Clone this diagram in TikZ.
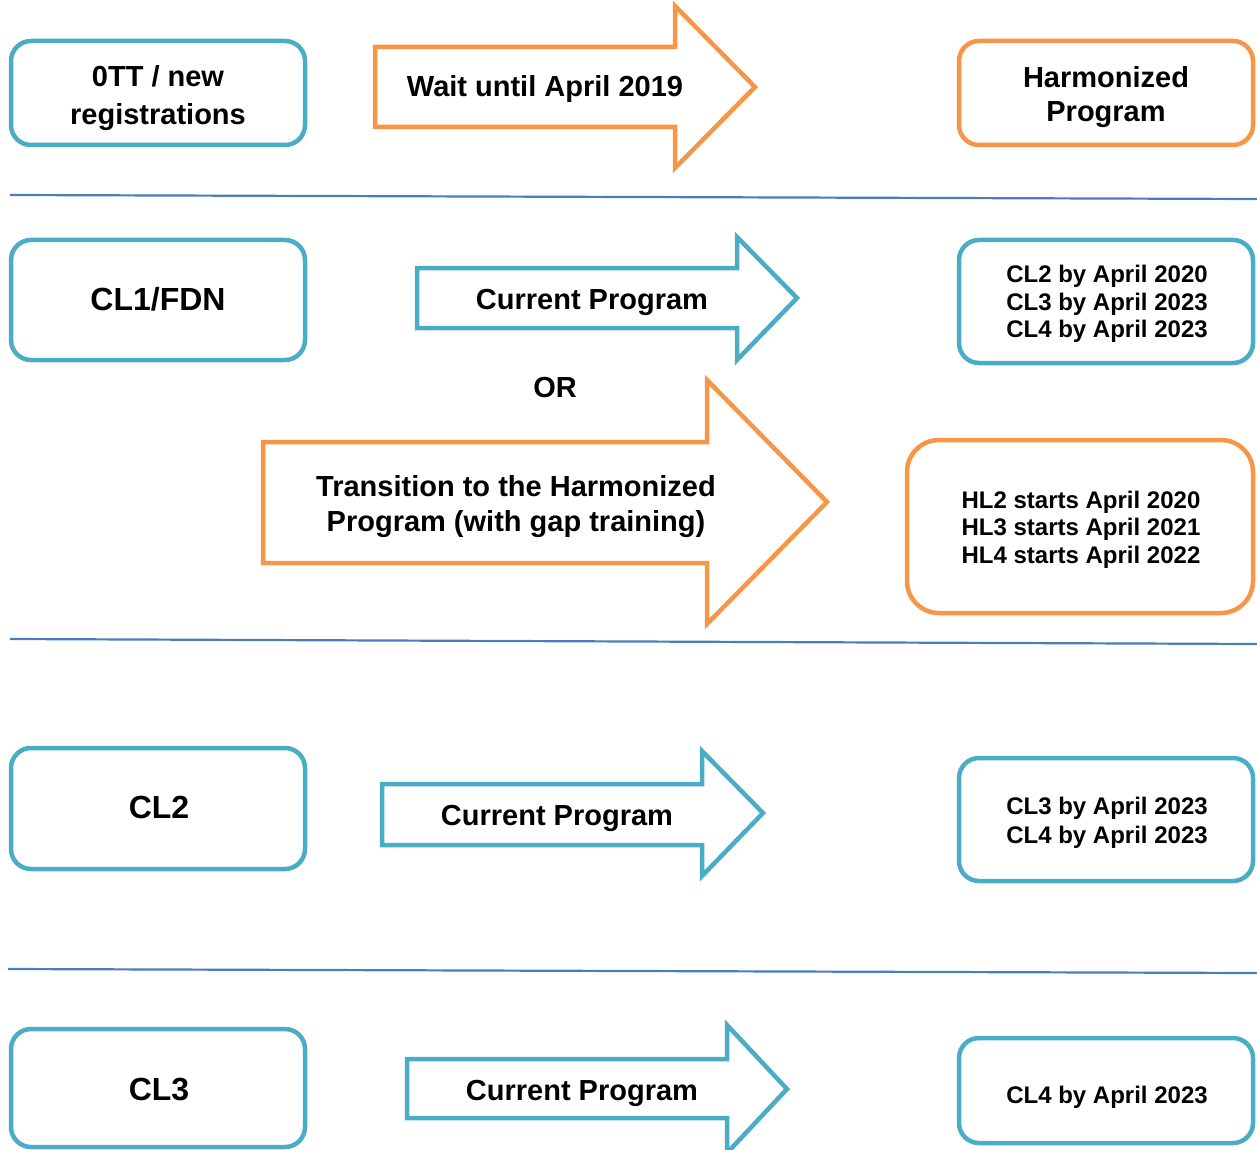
\documentclass[tikz,border=0pt]{standalone}
\usepackage{fontspec}
\setmainfont{Liberation Sans}
\definecolor{tealb}{HTML}{4BACC6}
\definecolor{orng}{HTML}{F79646}
\definecolor{rulec}{HTML}{4A7EBB}
\begin{document}
\begin{tikzpicture}[x=1pt,y=-1pt,
  bluebox/.style={draw=tealb, line width=4.5pt, rounded corners=20pt, inner sep=0pt, minimum width=294pt},
  orgbox/.style={draw=orng, line width=4.5pt, rounded corners=20pt, inner sep=0pt, minimum width=294pt},
  bluearrow/.style={draw=tealb, line width=4.5pt, fill=white, line join=miter},
  orgarrow/.style={draw=orng, line width=4.5pt, fill=white, line join=miter},
  lbl/.style={font=\fontsize{29}{35}\selectfont\bfseries, inner sep=0pt, align=center},
  biglbl/.style={font=\fontsize{32}{38}\selectfont\bfseries, inner sep=0pt},
  smalllbl/.style={font=\fontsize{24}{27.5}\selectfont\bfseries, inner sep=0pt, align=center},
  seprule/.style={draw=rulec, line width=2.2pt}]
\useasboundingbox (0,0) rectangle (1257,1150);
\clip (0,0) rectangle (1257,1150);

% separator rules
\coordinate (s1a) at (10,195);  \coordinate (s1b) at (1257,199);
\coordinate (s2a) at (10,639);  \coordinate (s2b) at (1257,644);
\coordinate (s3a) at (8,969);   \coordinate (s3b) at (1257,973);
\draw[seprule] (s1a) -- (s1b);
\draw[seprule] (s2a) -- (s2b);
\draw[seprule] (s3a) -- (s3b);

% row 1
\node[bluebox, minimum height=104pt] (b0tt) at (158,93) {};
\node[lbl, font=\fontsize{29}{38.5}\selectfont\bfseries] (t0tt) at (158,98) {0TT / new\\registrations};
\draw[orgarrow] (375,47) -- (675,47) -- (675,6) -- (755,87) -- (675,168) -- (675,127) -- (375,127) -- cycle;
\node[lbl, anchor=base] (twait) at (545,97) {Wait until April 2019};
\node[orgbox, minimum height=104pt] (bharm) at (1106,93) {};
\node[lbl, font=\fontsize{29}{34}\selectfont\bfseries] (tharm) at (1106,97.5) {Harmonized\\Program};

% row 2
\node[bluebox, minimum height=120pt] (bcl1) at (158,300) {};
\node[biglbl, anchor=base] (tcl1) at (158,310.5) {CL1/FDN};
\draw[bluearrow] (417,268) -- (737,268) -- (737,237) -- (797,298) -- (737,360) -- (737,328) -- (417,328) -- cycle;
\node[lbl, anchor=base] (tcur1) at (592,309) {Current Program};
\node[bluebox, minimum height=123pt] (bcl2by) at (1106,301.5) {};
\node[smalllbl] (tcl2by) at (1107,304) {CL2 by April 2020\\CL3 by April 2023\\CL4 by April 2023};
\node[lbl, anchor=base] (tor) at (555,397) {OR};
\draw[orgarrow] (263,442) -- (707,442) -- (707,380) -- (827,502) -- (707,624) -- (707,563) -- (263,563) -- cycle;
\node[lbl] (ttrans) at (516,506.5) {Transition to the Harmonized\\Program (with gap training)};
\node[orgbox, rounded corners=32pt, minimum width=346pt, minimum height=173pt] (bhl) at (1080,526.5) {};
\node[smalllbl] (thl) at (1081,529.5) {HL2 starts April 2020\\HL3 starts April 2021\\HL4 starts April 2022};

% row 3
\node[bluebox, minimum height=121pt] (bcl2) at (158,808.5) {};
\node[biglbl, anchor=base] (tcl2) at (159,818.5) {CL2};
\draw[bluearrow] (382,784) -- (702,784) -- (702,751) -- (763,813) -- (702,876) -- (702,845) -- (382,845) -- cycle;
\node[lbl, anchor=base] (tcur2) at (557,825.5) {Current Program};
\node[bluebox, minimum height=123pt] (bcl3by) at (1106,819.5) {};
\node[smalllbl, font=\fontsize{24}{29}\selectfont\bfseries] (tcl3by) at (1107,823) {CL3 by April 2023\\CL4 by April 2023};

% row 4
\node[bluebox, minimum height=118pt] (bcl3) at (158,1088) {};
\node[biglbl, anchor=base] (tcl3) at (159,1100) {CL3};
\draw[bluearrow] (407,1059) -- (727,1059) -- (727,1025) -- (787,1089) -- (727,1153) -- (727,1118) -- (407,1118) -- cycle;
\node[lbl, anchor=base] (tcur3) at (582,1100) {Current Program};
\node[bluebox, minimum height=105pt] (bcl4by) at (1106,1090.5) {};
\node[smalllbl, anchor=base] (tcl4by) at (1107,1103) {CL4 by April 2023};
\end{tikzpicture}
\end{document}
